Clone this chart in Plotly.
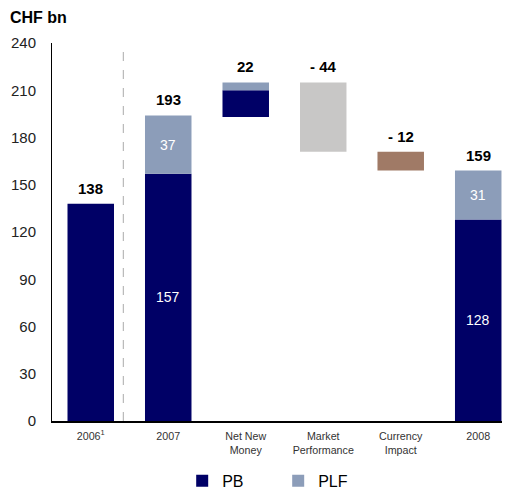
import plotly.graph_objects as go

categories = ["2006<sup>1</sup>", "2007", "Net New<br>Money", "Market<br>Performance",
              "Currency<br>Impact", "2008"]

# stacked totals (PB / PLF) for the year columns
pb_2007, plf_2007, total_2007 = 157, 37, 193
pb_2008, plf_2008, total_2008 = 128, 31, 159
total_2006 = 138

# movements during 2008
nnm_pb, nnm_plf = 17, 5
nnm_total = 22
market_perf = -44
currency_impact = -12

top_labels = ["138", "193", "22", "- 44", "- 12", "159"]

NAVY = "#000066"
PLF_BLUE = "#8C9DB9"
GREY = "#C8C7C6"
BROWN = "#A07A66"
FONT = "Arial, Liberation Sans, sans-serif"

x = list(range(len(categories)))

lvl_nnm = total_2007
lvl_mkt = lvl_nnm + nnm_total
lvl_cur = lvl_mkt + market_perf

fig = go.Figure()

fig.add_trace(go.Bar(
    x=[0, 1, 2, 5], y=[total_2006, pb_2007, nnm_pb, pb_2008],
    base=[0, 0, lvl_nnm, 0], name="PB", marker_color=NAVY, width=0.6,
    marker_line_width=0,
))
fig.add_trace(go.Bar(
    x=[1, 2, 5], y=[plf_2007, nnm_plf, plf_2008],
    base=[pb_2007, lvl_nnm + nnm_pb, pb_2008], name="PLF", marker_color=PLF_BLUE,
    width=0.6, marker_line_width=0,
))
fig.add_trace(go.Bar(
    x=[3], y=[market_perf], base=[lvl_mkt], marker_color=GREY, width=0.6,
    showlegend=False, marker_line_width=0,
))
fig.add_trace(go.Bar(
    x=[4], y=[currency_impact], base=[lvl_cur], marker_color=BROWN, width=0.6,
    showlegend=False, marker_line_width=0,
))

# white value labels inside the stacked year bars
inner = [(1, pb_2007 / 2, pb_2007), (1, pb_2007 + plf_2007 / 2, plf_2007),
         (5, pb_2008 / 2, pb_2008), (5, pb_2008 + plf_2008 / 2, plf_2008)]
for xi, yi, v in inner:
    fig.add_annotation(x=xi, y=yi, text=str(v), showarrow=False,
                       font=dict(size=14, color="white", family=FONT))

tops = [total_2006, pb_2007 + plf_2007, lvl_mkt, lvl_mkt, lvl_cur, total_2008]
for i, (t, lab) in enumerate(zip(tops, top_labels)):
    fig.add_annotation(x=i, y=t, text="<b>%s</b>" % lab, showarrow=False,
                       yanchor="bottom", yshift=5,
                       font=dict(size=15, color="black", family=FONT))

fig.add_shape(type="line", x0=0.42, x1=0.42, y0=0, y1=240, xref="x", yref="y",
              line=dict(color="#AAAAAA", width=1, dash="dash"), layer="below")

# page has an 8px body margin, so the figure is sized/offset to compensate
fig.update_layout(
    width=502, height=482,
    margin=dict(l=44, r=0, t=35, b=69),
    paper_bgcolor="white", plot_bgcolor="white",
    barmode="overlay",
    font=dict(family=FONT, color="#222222"),
    title=dict(text="<b>CHF bn</b>", x=0.004, xanchor="left", y=0.981, yanchor="middle",
               font=dict(size=16, color="black", family=FONT), automargin=False),
    showlegend=True,
    legend=dict(orientation="h", xref="container", x=0.347, xanchor="left",
                yref="container", y=0.019, yanchor="middle",
                font=dict(size=16, color="black", family=FONT),
                entrywidth=51, entrywidthmode="pixels"),
    xaxis=dict(tickmode="array", tickvals=x, ticktext=categories, range=[-0.5, 5.41],
               showline=True, linecolor="black", linewidth=1.5, ticks="",
               showgrid=False, zeroline=False, automargin=False, ticklabelstandoff=4,
               tickfont=dict(size=10.7, color="#333333", family=FONT)),
    yaxis=dict(range=[0, 240], tickvals=list(range(0, 241, 30)), showline=True,
               linecolor="black", linewidth=1, showgrid=False, zeroline=False,
               ticks="", ticklabelstandoff=12, automargin=False,
               tickfont=dict(size=15, color="#222222", family=FONT)),
)

fig.write_html("out.html")
